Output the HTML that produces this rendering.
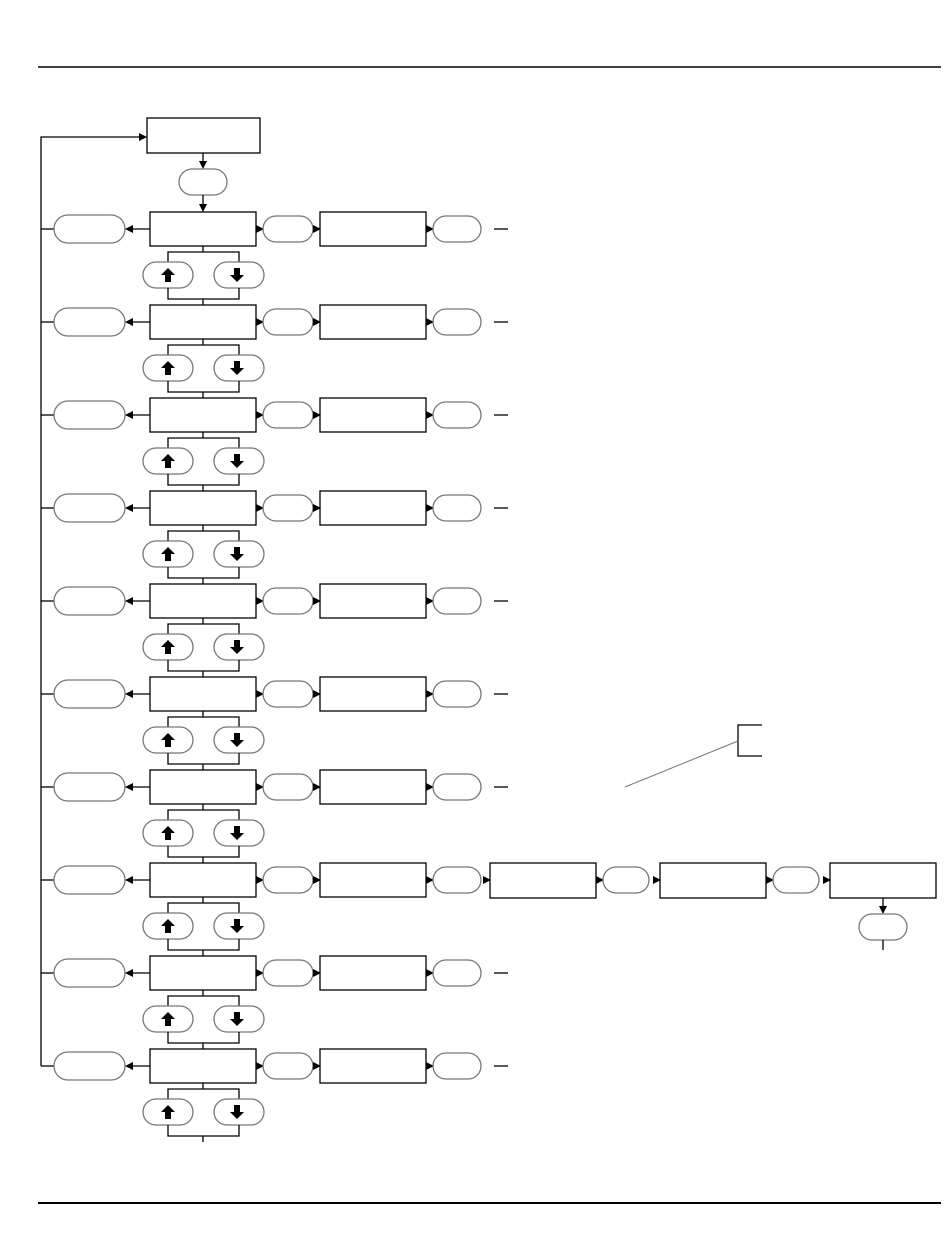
<!DOCTYPE html>
<html><head><style>body{margin:0;background:#fff}svg{display:block}</style></head>
<body>
<svg width="950" height="1241" viewBox="0 0 950 1241" xmlns="http://www.w3.org/2000/svg">
<defs>
<g id="row" fill="none" stroke="#000" stroke-width="1.3">
<line x1="41" y1="0" x2="54" y2="0"/>
<rect x="54" y="-14" width="71" height="28" rx="14" stroke="#777"/>
<line x1="150" y1="0" x2="130" y2="0"/>
<polygon points="125,0 133,-4 133,4" fill="#000" stroke="none"/>
<rect x="150" y="-17" width="106" height="34"/>
<polygon points="264,0 256,-4 256,4" fill="#000" stroke="none"/>
<rect x="263" y="-13" width="50" height="26" rx="13" stroke="#777"/>
<polygon points="321,0 313,-4 313,4" fill="#000" stroke="none"/>
<rect x="320" y="-17" width="106" height="34"/>
<polygon points="434,0 426,-4 426,4" fill="#000" stroke="none"/>
<rect x="433" y="-13" width="48" height="26" rx="13" stroke="#777"/>
<polyline points="203,17 203,23"/>
<polyline points="168,33 168,23 239,23 239,33"/>
<rect x="143" y="33" width="50" height="26" rx="13" stroke="#777"/>
<rect x="214" y="33" width="50" height="26" rx="13" stroke="#777"/>
<polyline points="168,59 168,70 239,70 239,59"/>
<line x1="203" y1="70" x2="203" y2="76"/>
<polygon points="168,39 161,46 165,46 165,53 171,53 171,46 175,46" fill="#000" stroke="none"/>
<polygon points="237,53 230,46 234,46 234,39 240,39 240,46 244,46" fill="#000" stroke="none"/>
</g>
<g id="dash"><line x1="494" y1="0" x2="508" y2="0" stroke="#000" stroke-width="1.3"/></g>
</defs>
<line x1="38" y1="67" x2="941" y2="67" stroke="#000" stroke-width="1.5"/>
<line x1="38" y1="1203" x2="941" y2="1203" stroke="#000" stroke-width="2"/>
<g fill="none" stroke="#000" stroke-width="1.3">
<polyline points="41,1066 41,137 140,137"/>
<polygon points="147,137 139,133 139,141" fill="#000" stroke="none"/>
<rect x="147" y="118" width="113" height="35"/>
<line x1="203" y1="153" x2="203" y2="163"/>
<polygon points="203,169 199,161 207,161" fill="#000" stroke="none"/>
<rect x="179" y="169" width="48" height="26" rx="13" stroke="#777"/>
<line x1="203" y1="195" x2="203" y2="206"/>
<polygon points="203,212 199,204 207,204" fill="#000" stroke="none"/>
</g>
<use href="#row" y="229"/><use href="#dash" y="229"/>
<use href="#row" y="322"/><use href="#dash" y="322"/>
<use href="#row" y="415"/><use href="#dash" y="415"/>
<use href="#row" y="508"/><use href="#dash" y="508"/>
<use href="#row" y="601"/><use href="#dash" y="601"/>
<use href="#row" y="694"/><use href="#dash" y="694"/>
<use href="#row" y="787"/><use href="#dash" y="787"/>
<use href="#row" y="880"/>
<use href="#row" y="973"/><use href="#dash" y="973"/>
<use href="#row" y="1066"/><use href="#dash" y="1066"/>
<g fill="none" stroke="#000" stroke-width="1.3">
<polygon points="491,880 483,876 483,884" fill="#000" stroke="none"/>
<rect x="490" y="863" width="106" height="35"/>
<polygon points="604,880 596,876 596,884" fill="#000" stroke="none"/>
<rect x="603" y="867" width="46" height="26" rx="13" stroke="#777"/>
<polygon points="661,880 653,876 653,884" fill="#000" stroke="none"/>
<rect x="660" y="863" width="106" height="35"/>
<polygon points="774,880 766,876 766,884" fill="#000" stroke="none"/>
<rect x="773" y="867" width="46" height="26" rx="13" stroke="#777"/>
<polygon points="831,880 823,876 823,884" fill="#000" stroke="none"/>
<rect x="830" y="863" width="106" height="35"/>
<line x1="883" y1="898" x2="883" y2="908"/>
<polygon points="883,914 879,906 887,906" fill="#000" stroke="none"/>
<rect x="859" y="914" width="48" height="26" rx="13" stroke="#777"/>
<line x1="883" y1="940" x2="883" y2="950"/>
<polyline points="762,725 738,725 738,756 762,756"/>
<line x1="625" y1="787" x2="738" y2="741" stroke="#777" stroke-width="1"/>
</g>
</svg>
</body></html>
